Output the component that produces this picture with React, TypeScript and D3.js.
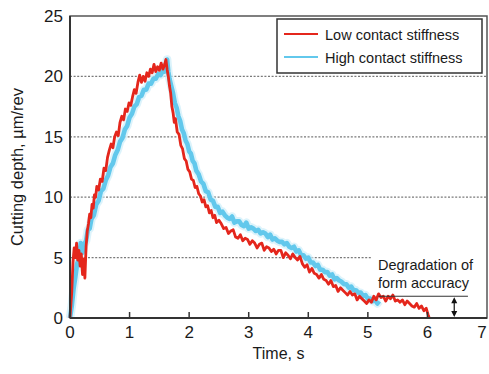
import React, { useEffect, useRef } from "react";
import * as d3 from "d3";

// [time s, cutting depth µm/rev]
const lowStiffness: [number, number][] = [
  [0.0, 0.0], [0.03, 2.2], [0.05, 4.6], [0.07, 5.8], [0.09, 5.0], [0.11, 6.2], [0.13, 4.8], [0.15, 5.6],
  [0.17, 4.3], [0.19, 5.3], [0.21, 3.6], [0.23, 4.9], [0.25, 3.3], [0.27, 5.9], [0.29, 7.2], [0.31, 7.8],
  [0.33, 8.6], [0.35, 8.3], [0.37, 9.4], [0.39, 9.1], [0.41, 10.2], [0.43, 10.0], [0.45, 10.9], [0.48, 10.6],
  [0.51, 11.5], [0.54, 11.3], [0.57, 12.4], [0.6, 12.2], [0.63, 13.3], [0.66, 13.9], [0.69, 14.4], [0.72, 14.1],
  [0.75, 15.0], [0.78, 15.4], [0.81, 15.1], [0.84, 16.2], [0.87, 16.7], [0.9, 16.4], [0.93, 17.3], [0.96, 17.1],
  [0.99, 17.8], [1.02, 17.6], [1.05, 18.3], [1.08, 18.9], [1.11, 18.6], [1.14, 19.5], [1.17, 20.1], [1.2, 19.5],
  [1.23, 20.0], [1.26, 19.6], [1.29, 20.3], [1.32, 20.0], [1.35, 20.6], [1.38, 20.3], [1.41, 21.0], [1.44, 20.4],
  [1.47, 20.8], [1.5, 20.5], [1.53, 21.1], [1.56, 20.6], [1.59, 21.0], [1.61, 21.4], [1.63, 20.6], [1.65, 20.0],
  [1.67, 19.2], [1.69, 18.6], [1.71, 17.5], [1.73, 17.0], [1.75, 16.2], [1.77, 16.5], [1.8, 15.4], [1.83, 15.2],
  [1.86, 14.3], [1.89, 14.0], [1.92, 13.2], [1.95, 13.0], [1.98, 12.3], [2.01, 12.1], [2.04, 11.5], [2.07, 11.4],
  [2.1, 10.8], [2.13, 10.9], [2.16, 10.3], [2.19, 10.1], [2.22, 9.6], [2.25, 9.8], [2.28, 9.2], [2.31, 9.3],
  [2.34, 8.7], [2.37, 8.9], [2.4, 8.3], [2.43, 8.5], [2.46, 7.9], [2.5, 8.1], [2.54, 7.8], [2.58, 7.4],
  [2.62, 7.5], [2.66, 7.0], [2.7, 7.2], [2.74, 7.3], [2.78, 6.7], [2.82, 6.6], [2.86, 6.9], [2.9, 6.4],
  [2.94, 6.6], [2.98, 6.5], [3.02, 6.1], [3.06, 6.4], [3.1, 6.2], [3.14, 5.8], [3.18, 6.1], [3.22, 6.2],
  [3.26, 5.6], [3.3, 5.9], [3.34, 5.8], [3.38, 5.5], [3.42, 5.7], [3.46, 5.3], [3.5, 5.6], [3.54, 5.6],
  [3.58, 5.0], [3.62, 5.4], [3.66, 5.2], [3.7, 4.9], [3.74, 5.3], [3.78, 5.0], [3.82, 4.8], [3.86, 5.1],
  [3.9, 4.5], [3.94, 4.2], [3.98, 4.4], [4.02, 3.8], [4.06, 4.1], [4.1, 3.7], [4.14, 3.6], [4.18, 3.3],
  [4.22, 3.6], [4.26, 3.2], [4.3, 3.1], [4.34, 2.8], [4.38, 3.1], [4.42, 2.6], [4.46, 2.7], [4.5, 2.2],
  [4.54, 2.5], [4.58, 2.3], [4.62, 2.1], [4.66, 1.9], [4.7, 2.2], [4.74, 1.9], [4.78, 2.0], [4.82, 1.5],
  [4.86, 1.8], [4.9, 1.6], [4.94, 1.4], [4.98, 1.2], [5.02, 1.5], [5.06, 1.3], [5.1, 1.8], [5.14, 1.5],
  [5.18, 2.0], [5.22, 1.7], [5.26, 1.8], [5.3, 1.4], [5.34, 1.8], [5.38, 1.6], [5.42, 1.9], [5.46, 1.4],
  [5.5, 1.5], [5.54, 1.3], [5.58, 1.5], [5.62, 1.1], [5.66, 1.4], [5.7, 1.2], [5.74, 1.0], [5.78, 0.9],
  [5.82, 1.2], [5.86, 0.8], [5.9, 1.0], [5.94, 0.6], [5.98, 0.8], [6.01, 0.3], [6.03, 0.0],
];

const highStiffness: [number, number][] = [
  [0.0, 0.0], [0.03, 1.0], [0.06, 2.4], [0.09, 3.4], [0.12, 4.5], [0.15, 4.9], [0.18, 6.2], [0.21, 5.4],
  [0.24, 6.1], [0.27, 6.4], [0.3, 7.3], [0.33, 7.4], [0.36, 8.2], [0.4, 8.5], [0.44, 9.4], [0.48, 9.7],
  [0.52, 10.5], [0.56, 10.7], [0.6, 11.4], [0.64, 11.8], [0.68, 12.5], [0.72, 12.8], [0.76, 13.5], [0.8, 13.9],
  [0.84, 14.6], [0.88, 14.9], [0.92, 15.6], [0.96, 15.9], [1.0, 16.6], [1.04, 16.9], [1.08, 17.5], [1.12, 17.7],
  [1.16, 18.3], [1.2, 18.4], [1.24, 18.9], [1.28, 18.9], [1.32, 19.4], [1.36, 19.4], [1.4, 19.8], [1.44, 19.8],
  [1.48, 20.2], [1.52, 20.1], [1.56, 20.5], [1.59, 20.4], [1.61, 21.0], [1.63, 21.4], [1.65, 20.4], [1.67, 19.8],
  [1.7, 19.2], [1.73, 18.6], [1.76, 17.8], [1.79, 17.4], [1.82, 16.7], [1.85, 16.3], [1.88, 15.6], [1.91, 15.3],
  [1.94, 14.7], [1.97, 14.4], [2.0, 13.8], [2.03, 13.6], [2.06, 13.0], [2.09, 12.8], [2.12, 12.2], [2.16, 11.9],
  [2.2, 11.3], [2.24, 11.1], [2.28, 10.5], [2.32, 10.4], [2.36, 9.8], [2.4, 9.7], [2.44, 9.2], [2.48, 9.2],
  [2.52, 8.7], [2.56, 8.8], [2.6, 8.5], [2.64, 8.3], [2.68, 8.2], [2.72, 8.4], [2.76, 7.9], [2.8, 8.0],
  [2.84, 8.0], [2.88, 7.7], [2.92, 7.6], [2.96, 7.9], [3.0, 7.4], [3.04, 7.5], [3.08, 7.4], [3.12, 7.2],
  [3.16, 7.3], [3.2, 7.0], [3.24, 7.1], [3.28, 7.0], [3.32, 6.7], [3.36, 6.9], [3.4, 6.5], [3.44, 6.6],
  [3.48, 6.4], [3.52, 6.3], [3.56, 6.3], [3.6, 6.1], [3.64, 6.2], [3.68, 5.9], [3.72, 5.8], [3.76, 5.9],
  [3.8, 5.5], [3.84, 5.6], [3.88, 5.2], [3.92, 5.2], [3.96, 4.9], [4.0, 5.0], [4.04, 4.6], [4.08, 4.6],
  [4.12, 4.3], [4.16, 4.4], [4.2, 4.0], [4.24, 4.0], [4.28, 3.8], [4.32, 3.8], [4.36, 3.5], [4.4, 3.6],
  [4.44, 3.2], [4.48, 3.3], [4.52, 3.1], [4.56, 3.0], [4.6, 2.8], [4.64, 2.8], [4.68, 2.5], [4.72, 2.6],
  [4.76, 2.3], [4.8, 2.3], [4.84, 2.1], [4.88, 2.1], [4.92, 1.8], [4.96, 1.9], [5.0, 1.6], [5.04, 1.6],
  [5.08, 1.4], [5.12, 1.5], [5.16, 1.2], [5.19, 1.4],
];

const xTicks = [0, 1, 2, 3, 4, 5, 6, 7];
const yTicks = [0, 5, 10, 15, 20, 25];
const gridValues = [5, 10, 15, 20];
const legendLabels = ["Low contact stiffness", "High contact stiffness"];
const annotationLines = ["Degradation of", "form accuracy"];
const degradationLevel = 1.8;

const W = 489;
const H = 374;
const FONT = "'Liberation Sans', Arial, Helvetica, sans-serif";

export default function App() {
  const svgRef = useRef<SVGSVGElement>(null);

  useEffect(() => {
    const svg = d3.select(svgRef.current);
    svg.selectAll("*").remove();

    const left = 70, right = 487, top = 16, bottom = 318;
    const x = d3.scaleLinear().domain([0, 7]).range([left, right]);
    const y = d3.scaleLinear().domain([0, 25]).range([bottom, top]);

    svg.append("rect").attr("width", W).attr("height", H).attr("fill", "#fff");

    // grid (the 5 line stops before the annotation text)
    svg.append("g")
      .selectAll("line")
      .data(gridValues)
      .join("line")
      .attr("x1", left)
      .attr("x2", d => (d === 5 ? x(5.06) : right))
      .attr("y1", d => y(d))
      .attr("y2", d => y(d))
      .attr("stroke", "#7a7a7a")
      .attr("stroke-width", 1.2)
      .attr("stroke-dasharray", "2,1.6");

    const line = d3.line<[number, number]>().x(d => x(d[0])).y(d => y(d[1]));

    // high stiffness: pale halo + light blue band
    svg.append("path").datum(highStiffness).attr("d", line)
      .attr("fill", "none").attr("stroke", "#cdeefa").attr("stroke-width", 8.5)
      .attr("stroke-linejoin", "round").attr("opacity", 0.7);
    svg.append("path").datum(highStiffness).attr("d", line)
      .attr("fill", "none").attr("stroke", "#62c8ec").attr("stroke-width", 4.6)
      .attr("stroke-linejoin", "round");

    svg.append("path").datum(lowStiffness).attr("d", line)
      .attr("fill", "none").attr("stroke", "#e4261c").attr("stroke-width", 2.8)
      .attr("stroke-linejoin", "round");

    // frame
    svg.append("rect")
      .attr("x", left).attr("y", top)
      .attr("width", right - left).attr("height", bottom - top)
      .attr("fill", "none").attr("stroke", "#555").attr("stroke-width", 1.5);
    svg.append("line").attr("x1", left).attr("x2", left).attr("y1", top).attr("y2", bottom)
      .attr("stroke", "#333").attr("stroke-width", 2);
    svg.append("line").attr("x1", left).attr("x2", right).attr("y1", bottom).attr("y2", bottom)
      .attr("stroke", "#333").attr("stroke-width", 2);

    // x ticks pointing inward
    svg.append("g")
      .selectAll("line")
      .data(xTicks.filter(t => t > 0 && t < 7))
      .join("line")
      .attr("x1", d => x(d)).attr("x2", d => x(d))
      .attr("y1", bottom).attr("y2", bottom - 6)
      .attr("stroke", "#333").attr("stroke-width", 1.5);

    svg.append("g")
      .selectAll("text")
      .data(xTicks)
      .join("text")
      .attr("x", d => Math.min(x(d), 482))
      .attr("y", bottom + 20)
      .attr("text-anchor", "middle")
      .attr("font-family", FONT).attr("font-size", 17).attr("fill", "#1a1a1a")
      .text(d => d);

    svg.append("g")
      .selectAll("text")
      .data(yTicks)
      .join("text")
      .attr("x", left - 7)
      .attr("y", d => y(d) + 6)
      .attr("text-anchor", "end")
      .attr("font-family", FONT).attr("font-size", 17).attr("fill", "#1a1a1a")
      .text(d => d);

    svg.append("text")
      .attr("x", (left + right) / 2).attr("y", 359)
      .attr("text-anchor", "middle")
      .attr("font-family", FONT).attr("font-size", 16).attr("fill", "#1a1a1a")
      .text("Time, s");

    svg.append("text")
      .attr("transform", `translate(23, ${(top + bottom) / 2}) rotate(-90)`)
      .attr("text-anchor", "middle")
      .attr("font-family", FONT).attr("font-size", 16.5).attr("fill", "#1a1a1a")
      .text("Cutting depth, \u00b5m/rev");

    // legend
    const legend = svg.append("g");
    legend.append("rect")
      .attr("x", 277).attr("y", 19).attr("width", 205).attr("height", 54)
      .attr("fill", "#fff").attr("stroke", "#333").attr("stroke-width", 1.5);
    const legendColors = ["#e4261c", "#62c8ec"];
    legend.selectAll("line")
      .data(legendLabels)
      .join("line")
      .attr("x1", 284).attr("x2", 318)
      .attr("y1", (_, i) => 34 + i * 23).attr("y2", (_, i) => 34 + i * 23)
      .attr("stroke", (_, i) => legendColors[i])
      .attr("stroke-width", 2);
    legend.selectAll("text")
      .data(legendLabels)
      .join("text")
      .attr("x", 325)
      .attr("y", (_, i) => 40 + i * 23)
      .attr("font-family", FONT).attr("font-size", 14.5).attr("fill", "#1a1a1a")
      .text(d => d);

    // annotation
    svg.append("g")
      .selectAll("text")
      .data(annotationLines)
      .join("text")
      .attr("x", 378)
      .attr("y", (_, i) => 270 + i * 18)
      .attr("font-family", FONT).attr("font-size", 14.5).attr("fill", "#1a1a1a")
      .text(d => d);

    svg.append("line")
      .attr("x1", x(5.18)).attr("x2", x(6.68))
      .attr("y1", y(degradationLevel)).attr("y2", y(degradationLevel))
      .attr("stroke", "#333").attr("stroke-width", 1.2);

    const ax = x(6.45);
    const y0 = y(degradationLevel) + 1, y1 = y(0) - 1;
    svg.append("line").attr("x1", ax).attr("x2", ax).attr("y1", y0 + 4).attr("y2", y1 - 4)
      .attr("stroke", "#111").attr("stroke-width", 1.2);
    svg.append("path")
      .attr("d", `M${ax},${y0} l-3,6 h6 Z M${ax},${y1} l-3,-6 h6 Z`)
      .attr("fill", "#111");
  }, []);

  return (
    <svg
      ref={svgRef}
      width={W}
      height={H}
      style={{ position: "absolute", left: 0, top: 0, display: "block" }}
    />
  );
}
